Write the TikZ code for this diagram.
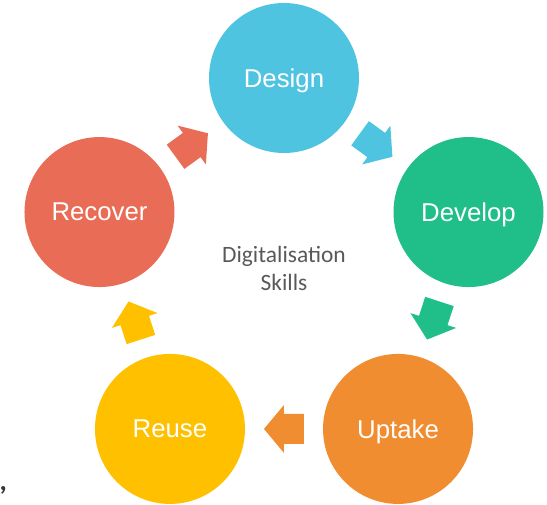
\documentclass[tikz,border=0pt]{standalone}
\usepackage{fontspec}
\setmainfont{Liberation Sans}
\newfontfamily\carlito{Carlito}
\usetikzlibrary{calc}
\definecolor{designblue}{HTML}{4EC4E0}
\definecolor{developgreen}{HTML}{20BF89}
\definecolor{uptakeorange}{HTML}{F08D30}
\definecolor{reuseyellow}{HTML}{FFC000}
\definecolor{recoverred}{HTML}{E96C56}
\definecolor{textgrey}{HTML}{595959}
\tikzset{stage/.style={circle,minimum size=4.5cm,inner sep=0,text=white,text depth=0pt,font=\fontsize{22}{26}\selectfont},
    blockarrow/.pic={\fill (-0.6,-0.45) -- (0,-0.45) -- (0,-0.72) -- (0.6,0) -- (0,0.72) -- (0,0.45) -- (-0.6,0.45) -- cycle;},
    hubtext/.style={align=center,text=textgrey,font=\carlito\fontsize{20}{24}\selectfont}}

\begin{document}
\begin{tikzpicture}

\useasboundingbox (-8.52,8.16) rectangle (7.89,-6.99);

\node (design)  [stage,fill=designblue]   at (90:5.82)   {Design};
\node (develop) [stage,fill=developgreen] at (18:5.82)   {Develop};
\node (uptake)  [stage,fill=uptakeorange] at (-54:5.82)  {Uptake};
\node (reuse)   [stage,fill=reuseyellow]  at (-126:5.82) {Reuse};
\node (recover) [stage,fill=recoverred]   at (162:5.82)  {Recover};

\node (hub) [hubtext] at (0,0.1) {Digitalisation\\Skills};

% block arrows halfway between neighbouring stages
\pic (arrow 1) [fill=recoverred,rotate=36]    at ($(recover)!0.5!(design)$) {blockarrow};
\pic (arrow 2) [fill=designblue,rotate=-36]   at ($(design)!0.5!(develop)$) {blockarrow};
\pic (arrow 3) [fill=developgreen,rotate=-108] at ($(develop)!0.5!(uptake)$) {blockarrow};
\pic (arrow 4) [fill=uptakeorange,rotate=180] at ($(uptake)!0.5!(reuse)$)   {blockarrow};
\pic (arrow 5) [fill=reuseyellow,rotate=108]  at ($(reuse)!0.5!(recover)$)  {blockarrow};

\node (comma) [anchor=base west,inner sep=0,text=black!80,font=\carlito\bfseries\fontsize{24}{28}\selectfont] at (-8.54,-6.56) {,};

\end{tikzpicture}
\end{document}
